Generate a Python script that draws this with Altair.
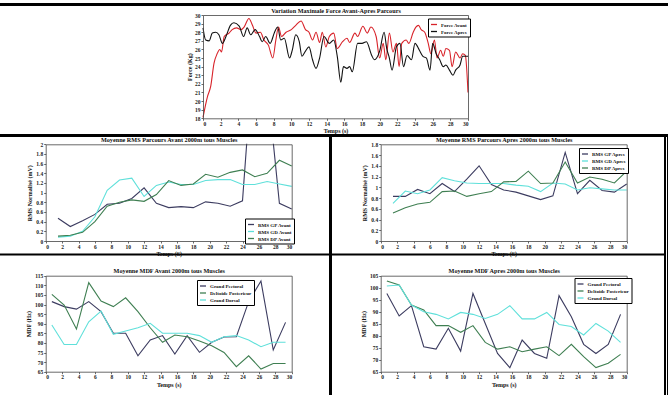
import altair as alt
import pandas as pd

F = "Liberation Serif"
W, H = 668, 395

# ---------------- data ----------------
# Top: force curves
fa_t = [0, 0.5, 0.87, 1.25, 1.6, 1.9, 2.1, 2.4, 2.95, 3.3, 3.8, 4.3, 4.65, 5.2, 5.6, 6, 6.5, 6.9, 7.4, 7.9,
        8.25, 8.55, 8.9, 9.4, 10, 10.5, 11.1, 11.6, 12, 12.4, 12.8, 13.2, 13.5, 13.9, 14.3, 14.8, 15.2, 15.8,
        16.3, 16.6, 17.2, 17.5, 18.1, 18.6, 19, 19.6, 20, 20.4, 20.7, 21.1, 21.5, 21.9, 22.2, 22.5, 23, 23.3,
        23.8, 24.1, 24.4, 24.7, 25.1, 25.5, 25.8, 26.2, 26.5, 26.9, 27.2, 27.5, 27.9, 28.2, 28.6, 29.1, 29.4,
        29.7, 30]
fa_v = [18.1, 20.5, 21.7, 24.4, 25.5, 26, 25.7, 27.5, 27.9, 28.3, 28.5, 28.3, 28.6, 29.6, 28.8, 27.9, 28, 27.1,
        26.5, 25, 27.1, 28.6, 27.5, 28, 28.3, 28.8, 29.3, 28.3, 28, 27.1, 28, 26.8, 28, 26.3, 27.5, 27.9, 26.1,
        26.9, 27.3, 26.8, 27.9, 27.5, 28.7, 27.9, 28.6, 27.5, 25, 26.7, 24.8, 27.9, 25.7, 26.7, 24, 26.7, 27.1,
        26.7, 28, 28.6, 28.8, 28.3, 28, 26.7, 25.5, 27.1, 25, 25.9, 25.2, 26.1, 25.9, 24, 25.7, 25, 25.5,
        25.3, 21]
fb_t = [0, 0.3, 0.7, 1.05, 1.45, 1.8, 2.2, 2.6, 3.1, 3.5, 4.1, 4.6, 5, 5.4, 5.9, 6.4, 6.7, 7.1, 7.6, 8.1,
        8.45, 8.8, 9.2, 9.8, 10.1, 10.5, 10.9, 11.2, 11.6, 12, 12.4, 12.8, 13.2, 13.7, 14.3, 14.8, 15.2, 15.6,
        15.9, 16.3, 16.6, 16.9, 17.5, 18, 18.5, 19.1, 19.4, 20, 20.5, 20.8, 21.1, 21.4, 21.9, 22.3, 22.7, 23.1,
        23.6, 24, 24.5, 24.9, 25.3, 25.7, 26, 26.4, 26.8, 27.2, 27.5, 27.9, 28.3, 28.6, 29.1, 29.4, 30]
fb_v = [28.5, 27.1, 27, 27.9, 28, 27.7, 26.7, 27.5, 28.8, 29.1, 28.7, 27.5, 28.5, 27.7, 28.3, 27.5, 26.9, 27.5,
        26.7, 28, 28.6, 27.1, 27.3, 25, 25.9, 27.7, 26.9, 25.2, 25.8, 26.3, 24.8, 23.8, 25, 27.5, 26.7, 27.1,
        25.2, 22.2, 24, 23.8, 24, 23.4, 26.7, 26.7, 26.9, 25.3, 24.8, 25.8, 28, 26.1, 25, 23.6, 26.3, 26.7, 24,
        25.3, 24.8, 26.7, 25.9, 25.2, 25, 23.6, 26.7, 25.5, 24.8, 24, 24.2, 23.6, 23, 23.6, 24.2, 25.2, 25.2]

# Middle: RMS
t_rms = [1.5, 3, 4.5, 6, 7.5, 9, 10.5, 12, 13.5, 15, 16.5, 18, 19.5, 21, 22.5, 24, 25.5, 27, 28.5, 30]
gp_av = [0.47, 0.30, 0.42, 0.55, 0.76, 0.78, 0.88, 1.10, 0.78, 0.69, 0.71, 0.69, 0.81, 0.78, 0.72, 0.83, 4.3, 3.3, 0.78, 0.66]
gd_av = [0.08, 0.10, 0.20, 0.50, 1.05, 1.26, 1.30, 0.92, 1.15, 1.22, 1.17, 1.17, 1.25, 1.27, 1.27, 1.17, 1.17, 1.23, 1.18, 1.13]
dp_av = [0.10, 0.12, 0.18, 0.40, 0.72, 0.80, 0.85, 0.82, 0.96, 1.25, 1.15, 1.18, 1.38, 1.32, 1.42, 1.47, 1.33, 1.40, 1.67, 1.55]
gp_ap = [0.83, 0.83, 0.96, 0.88, 1.07, 0.92, 1.15, 1.40, 1.05, 0.95, 0.91, 0.84, 0.77, 0.84, 1.65, 0.88, 1.13, 0.94, 0.91, 1.06]
gd_ap = [0.70, 0.93, 0.88, 0.95, 1.18, 1.12, 1.08, 1.07, 1.07, 1.07, 1.04, 1.02, 0.92, 1.08, 1.06, 0.95, 0.99, 0.97, 0.95, 0.95]
dp_ap = [0.52, 0.62, 0.69, 0.72, 0.92, 0.93, 0.83, 0.88, 0.92, 1.10, 1.11, 1.30, 1.07, 1.08, 1.47, 1.08, 1.19, 1.15, 1.08, 1.30]

# Bottom: MDF
t_mdf = [0.75, 2.25, 3.75, 5.25, 6.75, 8.25, 9.75, 11.25, 12.75, 14.25, 15.75, 17.25, 18.75, 20.25, 21.75,
         23.25, 24.75, 26.25, 27.75, 29.25]
pec_av = [101.5, 98.9, 97.6, 101.5, 96.3, 85, 85, 73.3, 81.5, 83.8, 74.2, 83.8, 75.1, 80.3, 83.1, 83.2, 101.5, 112.2, 76.3, 90.7]
del_av = [105.3, 99.7, 87.2, 111.4, 101.8, 98.9, 103.5, 96.3, 87.9, 80.3, 84.1, 83.2, 81, 78.5, 75, 67.6, 73.3, 66.4, 69.3, 69.3]
dor_av = [89.3, 79.2, 79.2, 91, 96.6, 84.5, 86.2, 87.9, 90.2, 85, 85, 85, 83.8, 80.3, 83.2, 83.8, 81.5, 78, 80.3, 80.3]
pec_ap = [97.6, 88.2, 92.5, 75.4, 74.4, 83.1, 73.6, 97.6, 85.1, 72.6, 66.7, 78.2, 72.6, 70.6, 96.7, 87.9, 76.4, 72.6, 76.4, 88.9]
del_ap = [102.8, 101.1, 92.8, 90.7, 84.2, 84.2, 81.4, 84.2, 77.2, 74.4, 75.4, 73.3, 74.4, 75.4, 71.7, 76.4, 71.3, 66.7, 68.5, 72.2]
dor_ap = [100.7, 101.1, 92.8, 90, 88.9, 87, 89.7, 88.9, 87.2, 88.9, 92.5, 87, 87, 89.7, 84.7, 83.8, 80.3, 85.1, 81.9, 77.2]

x_ticks = list(range(0, 31, 2))
rms_ticks_av = [0, 0.2, 0.4, 0.6, 0.8, 1, 1.2, 1.4, 1.6, 1.8, 2]
rms_ticks_ap = [0, 0.2, 0.4, 0.6, 0.8, 1, 1.2, 1.4, 1.6, 1.8]

C_DARK = "#3c3c60"
C_CYAN = "#5fe0da"
C_GREEN = "#3f7f52"
AX = "#444444"


def long_df(t, series):
    rows = []
    for name, vals in series:
        for ti, v in zip(t, vals):
            rows.append({"t": ti, "v": v, "s": name})
    return pd.DataFrame(rows)


def legend(x, y):
    return alt.Legend(orient="none", legendX=x, legendY=y, title=None, strokeColor="#000",
                      fillColor="#fff", padding=2, symbolType="stroke", symbolSize=36,
                      symbolStrokeWidth=1.3, labelFontSize=5, labelFont=F, labelFontWeight="bold",
                      rowPadding=0, labelLimit=0, labelColor="#111", labelOffset=3, zindex=2)


def panel(df, box, ydom, yticks, ytitle, title, domain, colors, leg, xtitle, fmt="~g",
          interp="linear", ytpad=3):
    x0, x1, y0, y1 = box  # plot area in picture pixels
    xs = alt.Scale(domain=[0, 30], range=[x0, x1], nice=False, zero=False)
    ys = alt.Scale(domain=ydom, range=[y1, y0], nice=False, zero=False)
    lines = alt.Chart(df).mark_line(strokeWidth=1.1, interpolate=interp).encode(
        x=alt.X("t:Q", scale=xs, axis=alt.Axis(orient="bottom", offset=-(H - y1), values=x_ticks,
                                                title=xtitle, titlePadding=1, zindex=1)),
        y=alt.Y("v:Q", scale=ys, axis=alt.Axis(orient="left", offset=-x0, values=yticks, format=fmt,
                                                title=ytitle, titlePadding=ytpad, zindex=1)),
        color=alt.Color("s:N", scale=alt.Scale(domain=domain, range=colors), legend=leg),
    )
    frame = alt.Chart(df).mark_line(opacity=0).encode(
        x=alt.X("t:Q", scale=xs, axis=alt.Axis(orient="top", offset=-y0, labels=False, ticks=False,
                                                title=title, titlePadding=2, titleFontSize=6.2,
                                                zindex=1)),
        y=alt.Y("v:Q", scale=ys, axis=alt.Axis(orient="right", offset=-(W - x1), labels=False,
                                                ticks=False, title=None, zindex=1)),
    )
    return lines, frame


dummy = pd.DataFrame({"a": [0]})


def hline(x1, x2, y, w):
    return alt.Chart(dummy).mark_rule(color="#000", strokeWidth=w).encode(
        x=alt.value(x1), x2=alt.value(x2), y=alt.value(y))


def vline(x, y1, y2, w):
    return alt.Chart(dummy).mark_rule(color="#000", strokeWidth=w).encode(
        x=alt.value(x), y=alt.value(y1), y2=alt.value(y2))


force_df = pd.concat([
    pd.DataFrame({"t": fa_t, "v": fa_v, "s": "Force Avant"}),
    pd.DataFrame({"t": fb_t, "v": fb_v, "s": "Force Apres"}),
])
rms_av_df = long_df(t_rms, [("RMS GP Avant", gp_av), ("RMS GD Avant", gd_av), ("RMS DP Avant", dp_av)])
rms_ap_df = long_df(t_rms, [("RMS GP Apres", gp_ap), ("RMS GD Apres", gd_ap), ("RMS DP Apres", dp_ap)])
mdf_av_df = long_df(t_mdf, [("Grand Pectoral", pec_av), ("Deltoide Posterieur", del_av), ("Grand Dorsal", dor_av)])
mdf_ap_df = long_df(t_mdf, [("Grand Pectoral", pec_ap), ("Deltoide Posterieur", del_ap), ("Grand Dorsal", dor_ap)])

top_l, top_f = panel(force_df, (203, 468, 15, 118.3), [18, 30], list(range(18, 31)), "Force (Kg)",
                     "Variation Maximale Force Avant-Apres Parcours",
                     ["Force Avant", "Force Apres"], ["#d8232a", "#111111"], legend(428, 18.5),
                     "Temps (s)", fmt="d", interp="monotone", ytpad=2)
ml_l, ml_f = panel(rms_av_df, (45.7, 291.7, 144.3, 241), [0, 2], rms_ticks_av, "RMS Normalisé (mV)",
                   "Moyenne RMS Parcours Avant 2000m tous Muscles",
                   ["RMS GP Avant", "RMS GD Avant", "RMS DP Avant"], [C_DARK, C_CYAN, C_GREEN],
                   legend(245, 218.5), "Temps (S)")
mr_l, mr_f = panel(rms_ap_df, (380.7, 626.7, 144.3, 241), [0, 1.8], rms_ticks_ap, "RMS Normalisé (mV)",
                   "Moyenne RMS Parcours Apres 2000m tous Muscles",
                   ["RMS GP Apres", "RMS GD Apres", "RMS DP Apres"], [C_DARK, C_CYAN, C_GREEN],
                   legend(579, 148), "Temps (S)")
bl_l, bl_f = panel(mdf_av_df, (45.7, 291.7, 275.7, 371.7), [65, 115], list(range(65, 116, 5)), "MDF (Hz)",
                   "Moyenne MDF Avant 2000m tous Muscles",
                   ["Grand Pectoral", "Deltoide Posterieur", "Grand Dorsal"], [C_DARK, C_GREEN, C_CYAN],
                   legend(197, 280), "Temps (s)")
br_l, br_f = panel(mdf_ap_df, (380.7, 626.7, 275.7, 371.7), [65, 105], list(range(65, 106, 5)), "MDF (Hz)",
                   "Moyenne MDF Apres 2000m tous Muscles",
                   ["Grand Pectoral", "Deltoide Posterieur", "Grand Dorsal"], [C_DARK, C_GREEN, C_CYAN],
                   legend(574.5, 278), "Temps (s)")

# white mask hiding the part of the off-scale spike above the middle-left plot
mask = alt.Chart(dummy).mark_rect(color="#ffffff").encode(
    x=alt.value(240), x2=alt.value(292.5), y=alt.value(16), y2=alt.value(143.8))

frames = [
    hline(0, 668, 4.5, 3),
    hline(0, 668, 135.5, 3),
    hline(0, 665, 254.5, 2),
    vline(330.5, 135, 395, 3),
    vline(665, 135, 395, 2),
    vline(667.5, 135, 395, 1),
]

chart = alt.layer(
    ml_l, mask, ml_f, top_l, top_f, mr_l, mr_f, bl_l, bl_f, br_l, br_f, *frames
).resolve_scale(
    x="independent", y="independent", color="independent"
).resolve_axis(
    x="independent", y="independent"
).resolve_legend(
    color="independent"
).properties(
    width=W, height=H, padding=0,
    autosize=alt.AutoSizeParams(type="none"),
    background="#ffffff",
).configure_view(
    stroke="transparent"
).configure_axis(
    labelFont=F, titleFont=F, labelFontSize=5.5, titleFontSize=6, labelFontWeight="bold",
    titleFontWeight="bold", grid=False, domainColor=AX, tickColor=AX, tickSize=2,
    labelColor="#222", titleColor="#111", domainWidth=0.8, tickWidth=0.8, labelPadding=1
)

chart.save("out.html", embed_options={"renderer": "svg", "actions": False})
